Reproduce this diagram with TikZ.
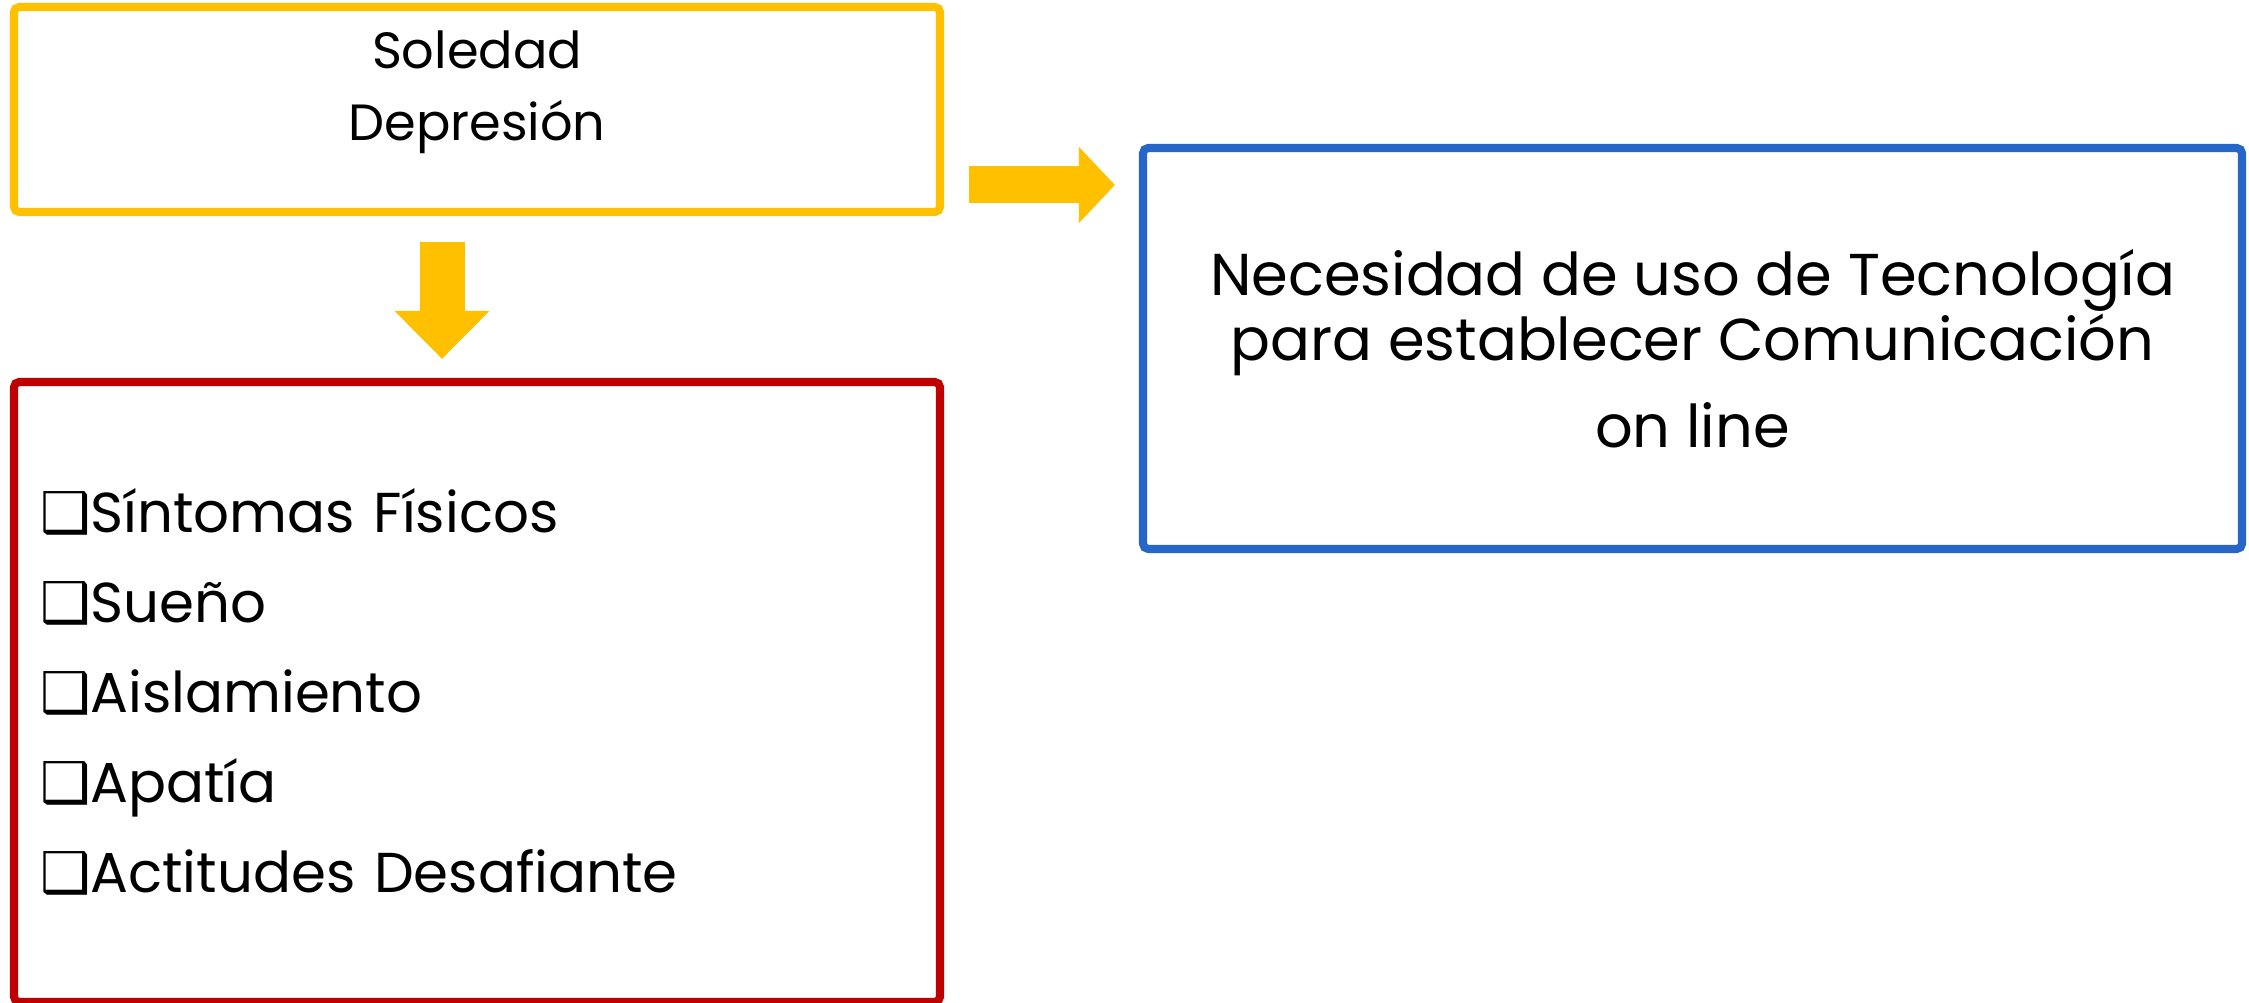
\documentclass[tikz,border=0pt]{standalone}
\usepackage{fontspec}
\setmainfont{Poppins}
\newfontfamily\symbfont{DejaVu Sans}
\usetikzlibrary{positioning, arrows.meta}
\definecolor{boxyellow}{HTML}{FFC000}
\definecolor{boxblue}{HTML}{2766C9}
\definecolor{boxred}{HTML}{C00000}
\newcommand{\chkbox}{{\symbfont ❑}}

\begin{document}
\begin{tikzpicture}[
  framebox/.style={rectangle, draw=#1, line width=2.3pt, rounded corners=1.5pt},
  blockarrow/.style={draw=boxyellow, line width=#1}
]
\useasboundingbox (0,0) rectangle (22.49,-10.03);

% Boxes
\node[framebox=boxyellow, minimum width=9.26cm, minimum height=2.05cm] (soledad) at (4.77,-1.095) {};
\node[font=\fontsize{14.5}{20.5}\selectfont, align=center, below=0.15cm of soledad.north] (soledadtxt)
      {Soledad\\Depresión};

\node[framebox=boxred, minimum width=9.26cm, minimum height=6.2cm, inner xsep=0.26cm,
      text width=8.74cm, align=left, font=\fontsize{16}{25.6}\selectfont] (sintomas) at (4.77,-6.92)
      {\chkbox Síntomas Físicos\\\chkbox Sueño\\\chkbox Aislamiento\\\chkbox Apatía\\\chkbox Actitudes Desafiante};

\node[framebox=boxblue, minimum width=10.99cm, minimum height=4.01cm, align=center,
      font=\fontsize{16.8}{18.5}\selectfont] (necesidad) at (16.925,-3.485)
      {Necesidad de uso de Tecnología\\para establecer Comunicación\\[0.22cm]on line};

% Arrows
\coordinate (downstart) at ([xshift=-0.35cm, yshift=-0.26cm]soledad.south);
\coordinate (rightstart) at ([shift={(0.25cm,-0.755cm)}]soledad.east);
\draw[blockarrow=0.45cm, -{Triangle[length=0.48cm, width=0.92cm]}, shorten >=0.19cm]
      (downstart) -- (downstart |- sintomas.north);
\draw[blockarrow=0.37cm, -{Triangle[length=0.36cm, width=0.74cm]}, shorten >=0.24cm]
      (rightstart) -- (rightstart -| necesidad.west);

\end{tikzpicture}
\end{document}
